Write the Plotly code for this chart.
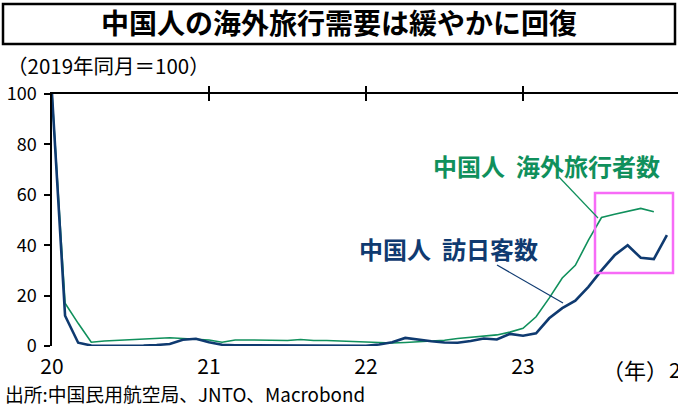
import plotly.graph_objects as go

# ---------------- data ----------------
months = [20 + i / 12 for i in range(48)]  # Jan 2020 ... Dec 2023 (year '20' = 2020)

outbound = [  # 中国人 海外旅行者数 (2019年同月=100)
    100, 17, 9, 1.5, 2.0, 2.3, 2.4, 2.8, 3.2, 3.3, 3.0, 2.6,
    2.4, 1.5, 2.4, 2.4, 2.3, 2.2, 2.2, 2.6, 2.2, 2.2, 2.0, 1.8,
    1.5, 1.3, 1.2, 1.4, 1.7, 2.0, 2.3, 3.0, 3.5, 3.8, 4.4, 5.5,
    7.0, 11.6, 19, 27, 32, 42, 51, 52.3, 53.6, 54.6, 53.3,
]
to_japan = [  # 中国人 訪日客数 (2019年同月=100)
    100, 12, 1.3, 0.2, 0.1, 0.1, 0.1, 0.2, 0.4, 0.8, 2.5, 2.9,
    1.5, 0.5, 0.3, 0.3, 0.3, 0.3, 0.3, 0.3, 0.3, 0.3, 0.3, 0.2,
    0.1, 0.6, 1.5, 3.2, 2.4, 1.9, 1.4, 1.3, 2.0, 3.0, 2.6, 4.8,
    4.1, 5.0, 11, 15, 18, 23.5, 30, 36, 40, 35, 34.5, 44,
]
x_tickvals = [20, 21, 22, 23]
x_ticktext = ["20", "21", "22", "23"]
y_tickvals = [0, 20, 40, 60, 80, 100]

title_text = "中国人の海外旅行需要は緩やかに回復"
unit_text = "（2019年同月＝100）"
source_text = "出所:中国民用航空局、JNTO、Macrobond"
label_outbound = "中国人&nbsp;&nbsp;海外旅行者数"
label_japan = "中国人&nbsp;&nbsp;訪日客数"

# ---------------- layout helpers ----------------
W, H = 678, 406
L, R, T, B = 52, 0, 94, 60
PW, PH = W - L - R, H - T - B
X0, PX_PER_YEAR = 20, 157
X1 = X0 + PW / PX_PER_YEAR


def px(xp):
    return (xp - L) / PW


def py(yp):
    return 1 + (T - yp) / PH


def dx(xp):
    return X0 + (xp - L) / PX_PER_YEAR


def dy(yp):
    return (T + PH - yp) / PH * 100


GREEN = "#10905c"
NAVY = "#0f3a70"
CJK = "Noto Sans CJK JP"

fig = go.Figure()
fig.add_trace(go.Scatter(x=months[:len(outbound)], y=outbound, mode="lines",
                         line=dict(color=GREEN, width=1.6), cliponaxis=False,
                         hoverinfo="skip"))
fig.add_trace(go.Scatter(x=months[:len(to_japan)], y=to_japan, mode="lines",
                         line=dict(color=NAVY, width=2.6), cliponaxis=False,
                         hoverinfo="skip"))
# carriers for the top axis line (no visible marks)
fig.add_trace(go.Scatter(x=[X0], y=[None], xaxis="x2", mode="none", hoverinfo="skip"))
fig.add_trace(go.Scatter(x=[X0], y=[None], xaxis="x3", mode="none", hoverinfo="skip"))

fig.update_layout(
    width=W, height=H,
    margin=dict(l=L, r=R, t=T, b=B, pad=0),
    paper_bgcolor="white", plot_bgcolor="white",
    showlegend=False,
    font=dict(family=CJK, color="black"),
    title=dict(text=f"<b>{title_text}</b>", x=0.5, xref="container", xanchor="center",
               y=1 - 24 / H, yref="container", yanchor="middle",
               font=dict(size=28, family=CJK, color="black")),
    xaxis=dict(range=[X0, X1], tickvals=x_tickvals, ticktext=x_ticktext,
               showline=False, ticks="", showgrid=False, zeroline=False,
               tickfont=dict(size=21, family=CJK), ticklabelstandoff=6),
    xaxis2=dict(range=[X0, X1], overlaying="x", side="top", anchor="y",
                tickvals=x_tickvals[1:], showticklabels=False,
                showline=True, linecolor="black", linewidth=1.5,
                ticks="outside", ticklen=6, tickwidth=1.5, tickcolor="black",
                showgrid=False, zeroline=False),
    xaxis3=dict(range=[X0, X1], overlaying="x", side="top", anchor="y",
                tickvals=x_tickvals[1:], showticklabels=False,
                showline=False, ticks="inside", ticklen=7, tickwidth=1.5,
                tickcolor="black", showgrid=False, zeroline=False),
    yaxis=dict(range=[0, 100], tickvals=y_tickvals, showline=True,
               linecolor="black", linewidth=1.5, ticks="outside", ticklen=6,
               tickwidth=1.5, tickcolor="black", showgrid=False, zeroline=False,
               tickfont=dict(size=18, family=CJK), ticklabelstandoff=4),
)

# title frame
fig.add_shape(type="rect", xref="paper", yref="paper",
              x0=px(3), x1=px(675), y0=py(44), y1=py(4),
              line=dict(color="black", width=2.5), fillcolor="rgba(0,0,0,0)")
# highlight box
fig.add_shape(type="rect", xref="x", yref="y",
              x0=dx(595), x1=dx(673), y0=dy(273), y1=dy(193),
              line=dict(color="#f76bf7", width=2.5), fillcolor="rgba(0,0,0,0)")
# leader lines
fig.add_shape(type="line", xref="x", yref="y",
              x0=dx(559), y0=dy(177), x1=dx(598), y1=dy(218),
              line=dict(color=GREEN, width=1.2))
fig.add_shape(type="line", xref="x", yref="y",
              x0=dx(497), y0=dy(265), x1=dx(563), y1=dy(303),
              line=dict(color=NAVY, width=1.2))

ann = []
ann.append(dict(text=unit_text, xref="paper", yref="paper", x=px(6), y=py(65),
                xanchor="left", yanchor="middle", showarrow=False, borderpad=0,
                font=dict(size=20.5, family=CJK, color="black")))
ann.append(dict(text=source_text, xref="paper", yref="paper", x=px(3), y=py(393),
                xanchor="left", yanchor="middle", showarrow=False,
                font=dict(size=18.8, family=CJK, color="black")))
ann.append(dict(text="（年）", xref="paper", yref="paper", x=px(670), y=py(369),
                xanchor="right", yanchor="middle", showarrow=False,
                font=dict(size=22, family=CJK, color="black")))
ann.append(dict(text="24", xref="paper", yref="paper", x=px(L + 4 * PX_PER_YEAR), y=py(369),
                xanchor="center", yanchor="middle", showarrow=False,
                font=dict(size=21, family=CJK, color="black")))
ann.append(dict(text=f"<b>{label_outbound}</b>", xref="x", yref="y",
                x=dx(546), y=dy(165), xanchor="center", yanchor="middle",
                showarrow=False, font=dict(size=24, family=CJK, color=GREEN)))
ann.append(dict(text=f"<b>{label_japan}</b>", xref="x", yref="y",
                x=dx(448), y=dy(248), xanchor="center", yanchor="middle",
                showarrow=False, font=dict(size=24, family=CJK, color=NAVY)))
fig.update_layout(annotations=ann)

fig.write_html("out.html")
